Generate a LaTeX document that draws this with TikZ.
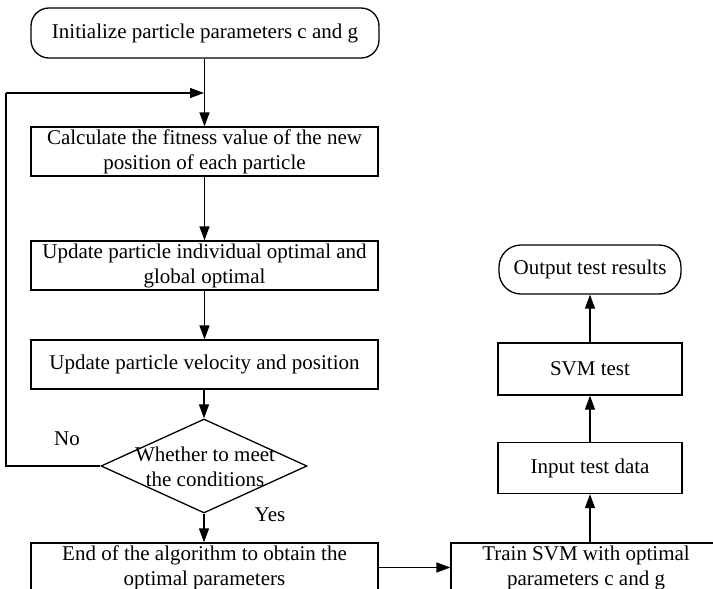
\documentclass[tikz,border=0pt]{standalone}
\usepackage{fontspec}
\setmainfont{Liberation Serif}
\usetikzlibrary{shapes.geometric,arrows.meta}
\begin{document}
\begin{tikzpicture}[x=1pt,y=-1pt,
  every node/.style={font=\fontsize{21}{25}\selectfont, align=center, inner sep=0pt},
  procbox/.style={draw, line width=1.3pt, rectangle, minimum width=347pt, minimum height=49pt},
  smallbox/.style={draw, line width=1.3pt, rectangle, minimum width=184pt, minimum height=51pt},
  termbox/.style={draw, line width=1.3pt, rectangle, rounded corners=18pt},
  flow/.style={line width=1.3pt, -{Triangle[length=14pt,width=10pt]}}]
  \useasboundingbox (0,0) rectangle (713,589);
  \clip (0,0) rectangle (713,589);

  % left column: particle swarm search
  \node[termbox, minimum width=348pt, minimum height=50pt] (init) at (205,33) {Initialize particle parameters c and g};
  \node[procbox] (calc) at (204.5,151.5) {Calculate the fitness value of the new\\position of each particle};
  \node[procbox] (best) at (204.5,265.5) {Update particle individual optimal and\\global optimal};
  \node[procbox] (move) at (204.5,364.5) {Update particle velocity and position};
  \node[draw, line width=1.3pt, diamond, minimum width=206pt, minimum height=94pt, aspect=2.2] (check) at (204,466) {};
  \node (checktext) at (205,467) {Whether to meet\\the conditions};
  \node[procbox] (done) at (204.5,567.5) {End of the algorithm to obtain the\\optimal parameters};

  % right column: SVM training and testing
  \node[procbox, minimum width=270pt] (train) at (586,567.5) {Train SVM with optimal\\parameters c and g};
  \node[smallbox] (input) at (590,468) {Input test data};
  \node[smallbox, minimum height=52pt] (svm) at (590,369) {SVM test};
  \node[termbox, minimum width=182pt, minimum height=49pt, rounded corners=22pt] (out) at (590,269.5) {Output test results};

  % branch labels
  \node (no) at (67,439) {No};
  \node (yes) at (270,515) {Yes};

  % loop-back corner points
  \coordinate (lb) at (6,466);
  \coordinate (lt) at (6,93);
  \coordinate (join) at (204,93);

  % connectors
  \draw[flow] (init.south -| calc) -- (calc.north);
  \draw[flow] (calc) -- (best);
  \draw[flow] (best) -- (move);
  \draw[flow] (move.south -| check) -- (check.north);
  \draw[flow] (check.south) -- (done.north -| check);
  \draw[line width=1.3pt] (check.west) -- (lb) -- (lt);
  \draw[flow] (lt) -- (join);
  \draw[flow] (done.east) -- (train.west);
  \draw[flow] (train.north -| input) -- (input.south);
  \draw[flow] (input) -- (svm);
  \draw[flow] (svm) -- (out);
\end{tikzpicture}
\end{document}
